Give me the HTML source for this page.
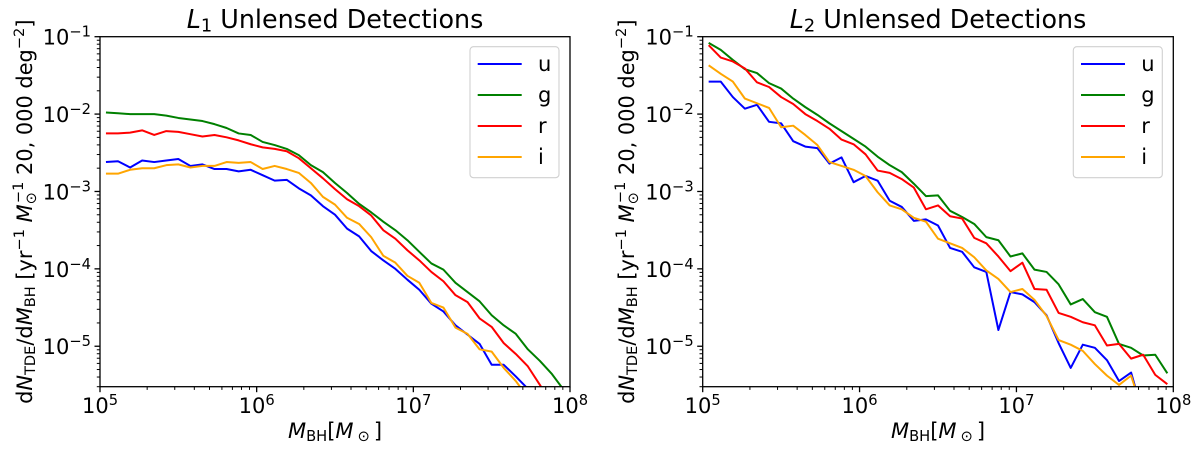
<!DOCTYPE html>
<html lang="en">
<head>
<meta charset="utf-8">
<title>Unlensed Detections</title>
<style>
html,body{margin:0;padding:0;background:#fff;}
svg{display:block;}
text{font-family:"DejaVu Sans",sans-serif;fill:#000;}
.it{font-style:italic;}
</style>
</head>
<body>
<svg id="fig" xmlns="http://www.w3.org/2000/svg" width="1200" height="453" viewBox="0 0 1200 453">
  <rect x="0" y="0" width="1200" height="453" fill="#fff"/>
  <defs>
    <clipPath id="clip-l1"><rect x="100" y="36.7" width="470" height="350"/></clipPath>
    <clipPath id="clip-l2"><rect x="702.7" y="36.7" width="470.6" height="350"/></clipPath>
  </defs>

  <text x="335" y="28" text-anchor="middle" font-size="25.4"><tspan class="it">L</tspan><tspan font-size="17.8" dy="3.5">1</tspan><tspan dy="-3.5"> Unlensed Detections</tspan></text>
  <text x="938" y="28" text-anchor="middle" font-size="25.4"><tspan class="it">L</tspan><tspan font-size="17.8" dy="3.5">2</tspan><tspan dy="-3.5"> Unlensed Detections</tspan></text>

  <text x="335" y="438" text-anchor="middle" font-size="21"><tspan class="it">M</tspan><tspan font-size="14.7" dy="3">BH</tspan><tspan dy="-3">[</tspan><tspan class="it">M</tspan><tspan font-size="14.7" dy="3" dx="4">⊙</tspan><tspan dy="-3" dx="4">]</tspan></text>
  <text x="938" y="438" text-anchor="middle" font-size="21"><tspan class="it">M</tspan><tspan font-size="14.7" dy="3">BH</tspan><tspan dy="-3">[</tspan><tspan class="it">M</tspan><tspan font-size="14.7" dy="3" dx="4">⊙</tspan><tspan dy="-3" dx="4">]</tspan></text>

  <text transform="translate(32,211.7) rotate(-90)" text-anchor="middle" font-size="20.9">d<tspan class="it">N</tspan><tspan font-size="14.6" dy="3">TDE</tspan><tspan dy="-3">/d</tspan><tspan class="it">M</tspan><tspan font-size="14.6" dy="3">BH</tspan><tspan dy="-3"> [yr</tspan><tspan font-size="14.6" dy="-8">−1</tspan><tspan dy="8"> </tspan><tspan class="it">M</tspan><tspan font-size="14.6" dy="4">⊙</tspan><tspan font-size="14.6" dx="-11" dy="-13">−1</tspan><tspan dy="9"> 20, 000 deg</tspan><tspan font-size="14.6" dy="-8">−2</tspan><tspan dy="8">]</tspan></text>
  <text transform="translate(634,211.7) rotate(-90)" text-anchor="middle" font-size="20.9">d<tspan class="it">N</tspan><tspan font-size="14.6" dy="3">TDE</tspan><tspan dy="-3">/d</tspan><tspan class="it">M</tspan><tspan font-size="14.6" dy="3">BH</tspan><tspan dy="-3"> [yr</tspan><tspan font-size="14.6" dy="-8">−1</tspan><tspan dy="8"> </tspan><tspan class="it">M</tspan><tspan font-size="14.6" dy="4">⊙</tspan><tspan font-size="14.6" dx="-11" dy="-13">−1</tspan><tspan dy="9"> 20, 000 deg</tspan><tspan font-size="14.6" dy="-8">−2</tspan><tspan dy="8">]</tspan></text>
</svg>

<script>
// Bin centres, log10(M_BH / M_sun)
const massLog = [5.038,5.115,5.192,5.269,5.346,5.423,5.500,5.577,5.654,5.731,5.808,5.885,5.962,6.038,6.115,6.192,6.269,6.346,6.423,6.500,6.577,6.654,6.731,6.808,6.885,6.962,7.038,7.115,7.192,7.269,7.346,7.423,7.500,7.577,7.654,7.731,7.808,7.885,7.962];

// L1 panel: log10(dN/dM)
const l1U = [-2.62,-2.61,-2.69,-2.60,-2.62,-2.60,-2.58,-2.67,-2.65,-2.71,-2.71,-2.74,-2.72,-2.79,-2.86,-2.85,-2.96,-3.05,-3.19,-3.30,-3.48,-3.58,-3.77,-3.89,-4.00,-4.14,-4.27,-4.45,-4.55,-4.73,-4.85,-4.97,-5.24,-5.24,-5.39,-5.55];
const l1G = [-1.98,-1.99,-2.00,-2.00,-2.00,-2.02,-2.05,-2.07,-2.09,-2.13,-2.18,-2.25,-2.27,-2.36,-2.40,-2.45,-2.53,-2.66,-2.75,-2.89,-3.02,-3.16,-3.27,-3.39,-3.50,-3.63,-3.78,-3.93,-4.01,-4.18,-4.30,-4.42,-4.60,-4.73,-4.84,-5.04,-5.19,-5.36,-5.57];
const l1R = [-2.25,-2.25,-2.24,-2.21,-2.27,-2.22,-2.23,-2.26,-2.29,-2.27,-2.30,-2.34,-2.39,-2.43,-2.45,-2.48,-2.57,-2.70,-2.83,-2.97,-3.10,-3.19,-3.31,-3.50,-3.61,-3.76,-3.89,-4.04,-4.16,-4.34,-4.43,-4.64,-4.75,-4.96,-5.10,-5.26,-5.50,-5.76];
const l1I = [-2.77,-2.77,-2.72,-2.70,-2.70,-2.66,-2.65,-2.69,-2.67,-2.67,-2.62,-2.63,-2.62,-2.71,-2.67,-2.71,-2.76,-2.89,-3.07,-3.17,-3.34,-3.42,-3.59,-3.83,-3.92,-4.09,-4.18,-4.44,-4.50,-4.76,-4.84,-5.04,-5.07,-5.28,-5.45,-5.66];

// L2 panel: log10(dN/dM)
const l2U = [-1.58,-1.58,-1.78,-1.93,-1.88,-2.10,-2.12,-2.35,-2.42,-2.44,-2.64,-2.56,-2.88,-2.80,-2.86,-3.12,-3.20,-3.38,-3.36,-3.44,-3.73,-3.78,-3.98,-4.04,-4.79,-4.30,-4.33,-4.43,-4.60,-4.96,-5.28,-4.98,-5.02,-5.18,-5.45,-5.34,-5.89];
const l2G = [-1.08,-1.17,-1.30,-1.42,-1.47,-1.60,-1.67,-1.80,-1.91,-2.01,-2.12,-2.22,-2.32,-2.42,-2.55,-2.66,-2.75,-2.90,-3.06,-3.05,-3.25,-3.33,-3.42,-3.59,-3.63,-3.84,-3.80,-4.01,-4.04,-4.20,-4.46,-4.39,-4.56,-4.62,-4.97,-5.02,-5.12,-5.11,-5.35];
const l2R = [-1.11,-1.27,-1.32,-1.41,-1.59,-1.65,-1.78,-1.87,-2.00,-2.09,-2.19,-2.33,-2.39,-2.52,-2.73,-2.76,-2.84,-2.95,-3.23,-3.18,-3.32,-3.35,-3.60,-3.67,-3.84,-4.03,-3.92,-4.26,-4.27,-4.57,-4.62,-4.69,-4.73,-4.99,-4.97,-5.16,-5.11,-5.37,-5.49];
const l2I = [-1.37,-1.48,-1.58,-1.80,-1.86,-1.92,-2.17,-2.15,-2.27,-2.40,-2.62,-2.67,-2.72,-2.80,-3.01,-3.18,-3.23,-3.34,-3.39,-3.61,-3.67,-3.73,-3.85,-4.02,-4.13,-4.30,-4.26,-4.40,-4.61,-4.92,-4.98,-5.06,-5.23,-5.38,-5.50,-5.38,-5.86];

// Tick labels and legend
const xTickExponents = [5,6,7,8];
const yTickExponents = [-1,-2,-3,-4,-5];
const minorMultipliers = [2,3,4,5,6,7,8,9];
const bandNames = ['u','g','r','i'];
const bandColors = ['#0000ff','#008000','#ff0000','#ffa500'];

const NS = 'http://www.w3.org/2000/svg';
const fig = document.getElementById('fig');
const Y_MIN_LOG = Math.log10(3e-6), Y_MAX_LOG = -1;
const TOP = 36.7, BOTTOM = 386.7;

function yScale(v){ return TOP + (Y_MAX_LOG - v) / (Y_MAX_LOG - Y_MIN_LOG) * (BOTTOM - TOP); }
function xScaleFor(left, right){ return function(v){ return left + (v - 5) / 3 * (right - left); }; }
function minus(n){ return n < 0 ? '\u2212' + Math.abs(n) : String(n); }

function tick(parent, x1, y1, x2, y2, w){
  const l = document.createElementNS(NS, 'line');
  
  
  l.setAttribute('x1', x1); l.setAttribute('y1', y1);
  l.setAttribute('x2', x2); l.setAttribute('y2', y2);
  l.setAttribute('stroke', '#000'); l.setAttribute('stroke-width', w);
  parent.appendChild(l);
}

function powerLabel(parent, x, y, anchor, exp){
  const t = document.createElementNS(NS, 'text');
  
  
  t.setAttribute('x', x); t.setAttribute('y', y);
  t.setAttribute('text-anchor', anchor);
  t.setAttribute('font-size', '21');
  t.textContent = '10';
  const s = document.createElementNS(NS, 'tspan');
  s.setAttribute('font-size', '14.7');
  s.setAttribute('dy', '-8');
  s.textContent = minus(exp);
  t.appendChild(s);
  parent.appendChild(t);
}

function drawPanel(prefix, left, right, seriesList){
  const x = xScaleFor(left, right);
  const g = document.createElementNS(NS, 'g');
  
  
  fig.appendChild(g);

  const plot = document.createElementNS(NS, 'g');
  
  
  plot.setAttribute('clip-path', 'url(#clip-' + prefix + ')');
  g.appendChild(plot);

  seriesList.forEach(function(vals, k){
    const p = document.createElementNS(NS, 'polyline');
    
    
    p.setAttribute('points', vals.map(function(v, i){ return x(massLog[i]).toFixed(2) + ',' + yScale(v).toFixed(2); }).join(' '));
    p.setAttribute('fill', 'none');
    p.setAttribute('stroke', bandColors[k]);
    p.setAttribute('stroke-width', '2');
    p.setAttribute('stroke-linejoin', 'round');
    plot.appendChild(p);
  });

  xTickExponents.forEach(function(e){
    tick(g, x(e), BOTTOM, x(e), BOTTOM + 5.5, 1.3);
    powerLabel(g, x(e), 413, 'middle', e);
    if (e < 8) minorMultipliers.forEach(function(m){
      const px = x(e + Math.log10(m));
      tick(g, px, BOTTOM, px, BOTTOM + 3.2, 1);
    });
  });

  yTickExponents.forEach(function(e){
    tick(g, left, yScale(e), left - 5.5, yScale(e), 1.3);
    powerLabel(g, left - 9, yScale(e) + 8, 'end', e);
  });
  [-2,-3,-4,-5,-6].forEach(function(e){
    minorMultipliers.forEach(function(m){
      const v = e + Math.log10(m);
      if (v >= Y_MIN_LOG - 1e-6 && v <= Y_MAX_LOG) tick(g, left, yScale(v), left - 3.2, yScale(v), 1);
    });
  });

  const frame = document.createElementNS(NS, 'rect');
  
  
  frame.setAttribute('x', left); frame.setAttribute('y', TOP);
  frame.setAttribute('width', right - left); frame.setAttribute('height', BOTTOM - TOP);
  frame.setAttribute('fill', 'none');
  frame.setAttribute('stroke', '#000');
  frame.setAttribute('stroke-width', '1.3');
  g.appendChild(frame);

  const legendLeft = right - 100;
  const box = document.createElementNS(NS, 'rect');
  
  
  box.setAttribute('x', legendLeft); box.setAttribute('y', 46.7);
  box.setAttribute('width', 89); box.setAttribute('height', 131);
  box.setAttribute('rx', 3.5);
  box.setAttribute('fill', '#fff'); box.setAttribute('fill-opacity', '0.8');
  box.setAttribute('stroke', '#d0d0d0'); box.setAttribute('stroke-width', '1.1');
  g.appendChild(box);

  bandNames.forEach(function(name, k){
    const ly = 64 + k * 31;
    const h = document.createElementNS(NS, 'line');
    
    
    h.setAttribute('x1', legendLeft + 7.7); h.setAttribute('x2', legendLeft + 51.7);
    h.setAttribute('y1', ly); h.setAttribute('y2', ly);
    h.setAttribute('stroke', bandColors[k]); h.setAttribute('stroke-width', '2');
    g.appendChild(h);
    const t = document.createElementNS(NS, 'text');
    
    
    t.setAttribute('x', legendLeft + 68); t.setAttribute('y', ly + 7);
    t.setAttribute('font-size', '21');
    t.textContent = name;
    g.appendChild(t);
  });
}

drawPanel('l1', 100, 570, [l1U, l1G, l1R, l1I]);
drawPanel('l2', 702.7, 1173.3, [l2U, l2G, l2R, l2I]);
</script>
</body>
</html>
